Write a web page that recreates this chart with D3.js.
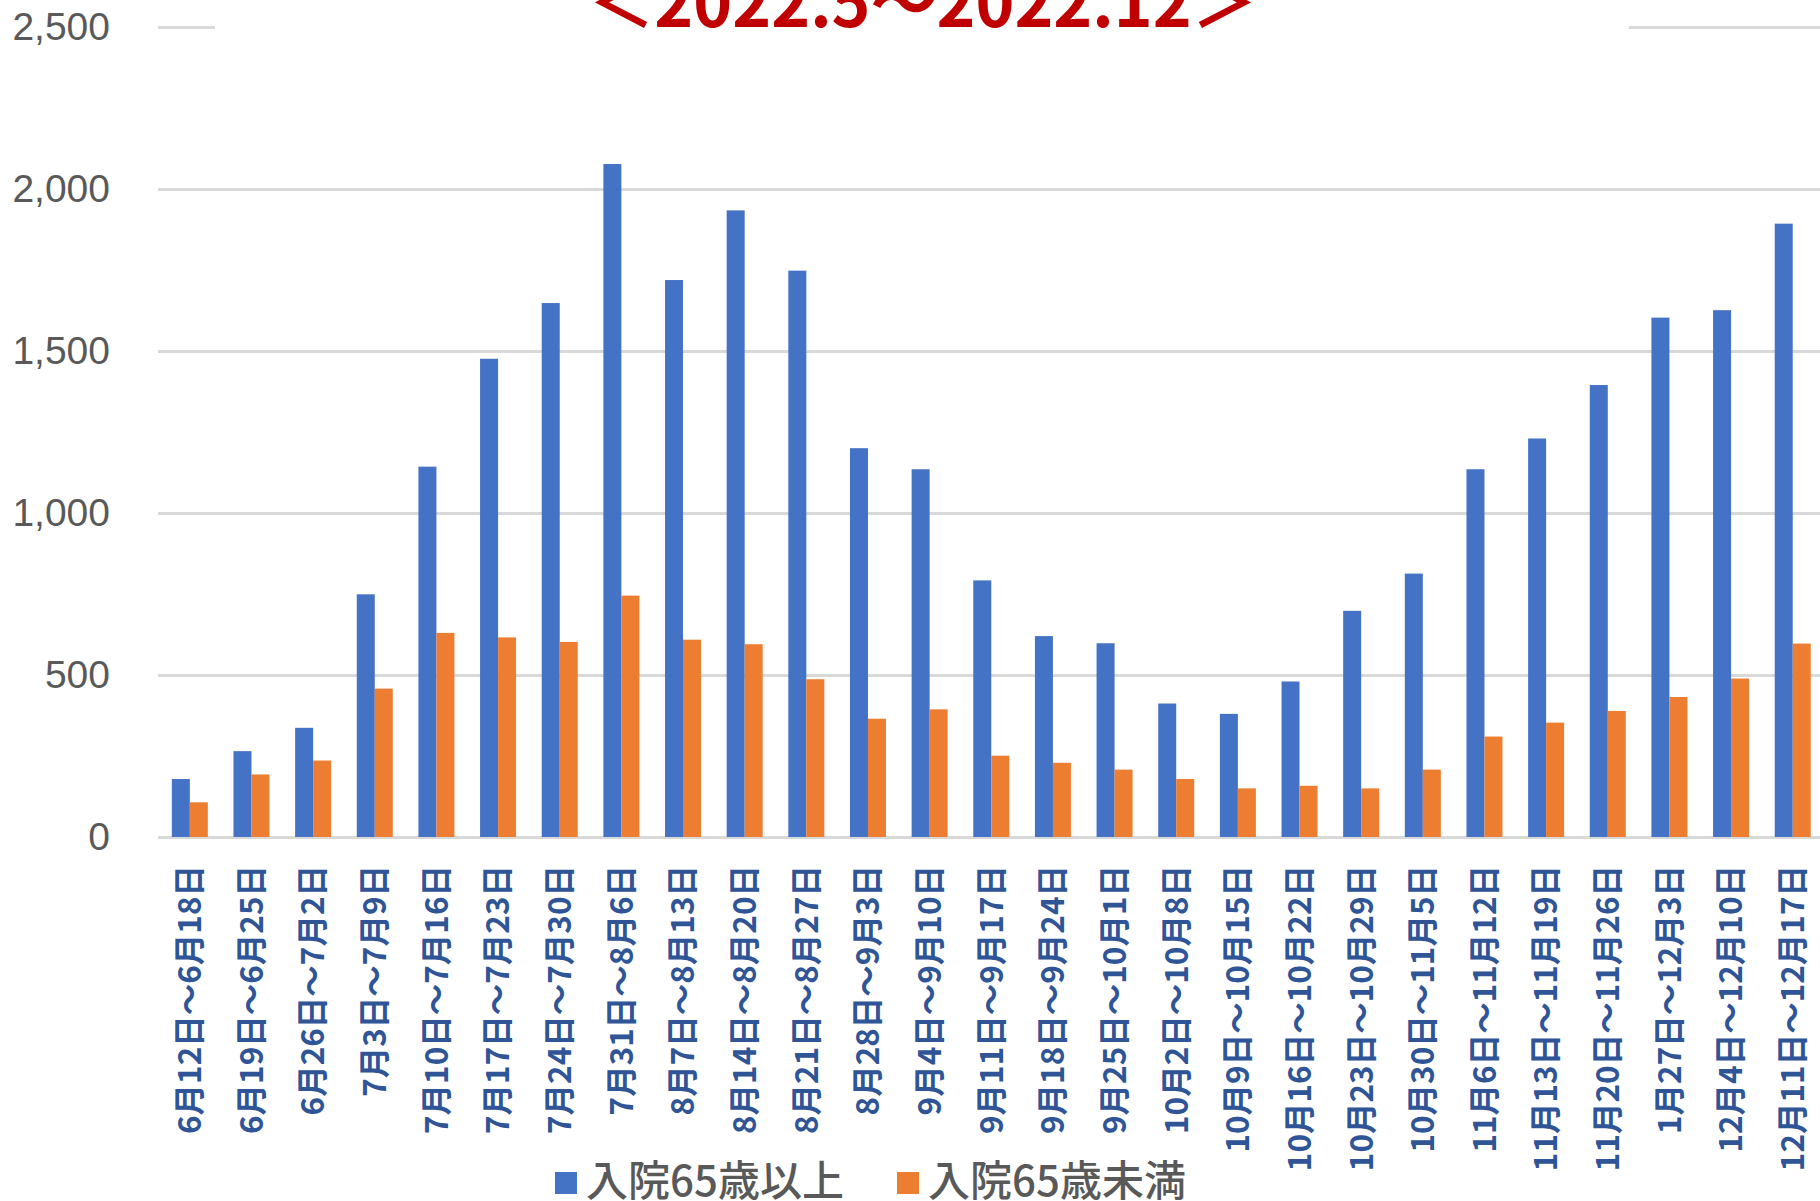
<!DOCTYPE html>
<html>
<head>
<meta charset="utf-8">
<script src="https://cdn.jsdelivr.net/npm/d3@7"></script>
<style>
  body { margin: 0; background: #fff; }
  svg { display: block; }
</style>
</head>
<body>
<div id="container"></div>
<script>
// data
const categories = [
  "6月12日～6月18日", "6月19日～6月25日", "6月26日～7月2日", "7月3日～7月9日",
  "7月10日～7月16日", "7月17日～7月23日", "7月24日～7月30日", "7月31日～8月6日",
  "8月7日～8月13日", "8月14日～8月20日", "8月21日～8月27日", "8月28日～9月3日",
  "9月4日～9月10日", "9月11日～9月17日", "9月18日～9月24日", "9月25日～10月1日",
  "10月2日～10月8日", "10月9日～10月15日", "10月16日～10月22日", "10月23日～10月29日",
  "10月30日～11月5日", "11月6日～11月12日", "11月13日～11月19日", "11月20日～11月26日",
  "1月27日～12月3日", "12月4日～12月10日", "12月11日～12月17日"
]
const over65 = [179, 265, 337, 749, 1143, 1476, 1648, 2077, 1719, 1934, 1748, 1200,
  1135, 792, 620, 598, 412, 380, 480, 698, 813, 1135, 1230, 1395, 1603, 1626, 1893]
const under65 = [107, 193, 236, 458, 630, 616, 602, 745, 609, 595, 487, 365,
  394, 251, 229, 208, 179, 150, 158, 150, 208, 310, 353, 389, 432, 489, 597]
const seriesNames = ["入院65歳以上", "入院65歳未満"]
const seriesColors = ["#4472c4", "#ed7d31"]
const yTicks = [0, 500, 1000, 1500, 2000, 2500]
const title = "＜2022.5～2022.12＞"

const width = 1820, height = 1201
const plotLeft = 159, step = 61.65, plotBottom = 837, plotTop = 27

const data = categories.map((c, i) => ({ cat: c, values: [over65[i], under65[i]] }))

const svg = d3.select("#container").append("svg")
  .attr("width", width)
  .attr("height", height)

// scales
const xScale = d3.scaleBand()
  .domain(categories)
  .range([plotLeft, plotLeft + step * categories.length])
  .paddingInner(0.416)
  .paddingOuter(0.208)

const xSub = d3.scaleBand()
  .domain(seriesNames)
  .range([0, xScale.bandwidth()])

const yScale = d3.scaleLinear()
  .domain([0, 2500])
  .range([plotBottom, plotTop])

// gridlines + y labels
const yAxis = d3.axisLeft(yScale)
  .tickValues(yTicks)
  .tickFormat(d3.format(","))
  .tickSizeInner(-(width - 158))
  .tickSizeOuter(0)
  .tickPadding(48)

const yG = svg.append("g")
  .attr("transform", "translate(158,0)")
  .call(yAxis)
yG.select(".domain").remove()
yG.selectAll("line").attr("stroke", "#d9d9d9").attr("stroke-width", 3)
yG.selectAll("text")
  .attr("fill", "#595959")
  .style("font-family", "'Liberation Sans', Arial, sans-serif")
  .style("font-size", "39px")

// bars
const groups = svg.append("g")
  .selectAll("g")
  .data(data)
  .join("g")
  .attr("transform", d => `translate(${xScale(d.cat)},0)`)

groups.selectAll("rect")
  .data(d => d.values.map((v, k) => ({ key: seriesNames[k], value: v, k })))
  .join("rect")
  .attr("x", d => xSub(d.key))
  .attr("y", d => yScale(d.value))
  .attr("width", xSub.bandwidth())
  .attr("height", d => plotBottom - yScale(d.value))
  .attr("fill", d => seriesColors[d.k])

// x labels
const xAxis = d3.axisBottom(xScale).tickSize(0)
const xG = svg.append("g")
  .attr("transform", `translate(0,${plotBottom})`)
  .call(xAxis)
xG.select(".domain").remove()
xG.selectAll("text")
  .attr("transform", "rotate(-90)")
  .attr("text-anchor", "end")
  .attr("x", -28)
  .attr("y", 0)
  .attr("dy", "0.36em")
  .attr("fill", "#2f5597")
  .style("font-family", "'Noto Sans CJK JP', sans-serif")
  .style("font-weight", "bold")
  .style("font-size", "31.5px")

// title box (covers the top gridline)
svg.append("rect")
  .attr("x", 215).attr("y", 0)
  .attr("width", 1629 - 215).attr("height", 45)
  .attr("fill", "#fff")

svg.append("text")
  .attr("x", 923)
  .attr("y", 27)
  .attr("text-anchor", "middle")
  .attr("fill", "#c00000")
  .style("font-family", "'Noto Sans CJK JP', sans-serif")
  .style("font-weight", "bold")
  .style("font-size", "66px")
  .text(title)

// legend
const legend = svg.append("g")
  .selectAll("g")
  .data(seriesNames)
  .join("g")
  .attr("transform", (d, i) => `translate(${[555, 897][i]},0)`)

legend.append("rect")
  .attr("x", 0).attr("y", 1172)
  .attr("width", 22).attr("height", 22)
  .attr("fill", (d, i) => seriesColors[i])

legend.append("text")
  .attr("x", 31)
  .attr("y", 1196)
  .attr("fill", "#595959")
  .style("font-family", "'Noto Sans CJK JP', sans-serif")
  .style("font-weight", "500")
  .style("font-size", "42px")
  .text(d => d)
</script>
</body>
</html>
